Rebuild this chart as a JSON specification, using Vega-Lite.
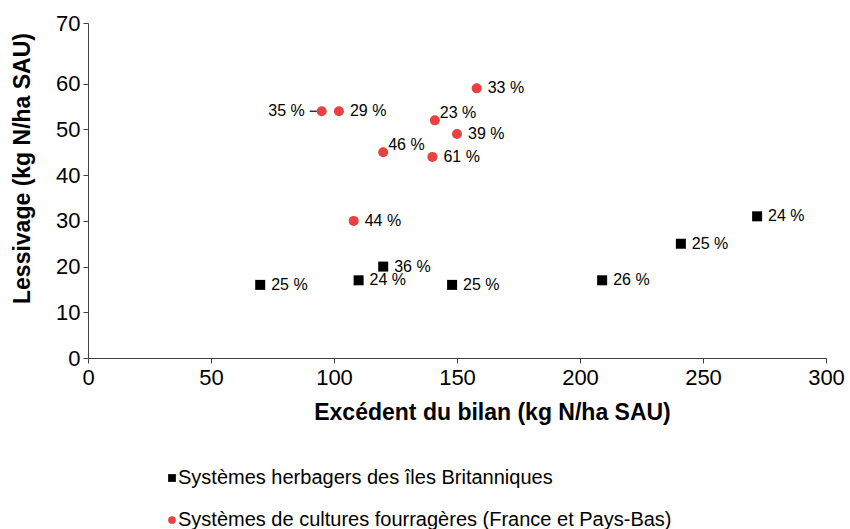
{
  "$schema": "https://vega.github.io/schema/vega-lite/v6.json",
  "width": 738,
  "height": 335,
  "autosize": {"type": "none"},
  "padding": {"left": 88, "top": 23, "right": 24, "bottom": 171},
  "background": "white",
  "config": {
    "view": {"stroke": null},
    "font": "Liberation Sans",
    "axis": {"grid": false, "domainColor": "#404040", "tickColor": "#404040", "tickSize": 5, "labelColor": "#000000", "titleColor": "#000000", "labelFont": "Liberation Sans", "titleFont": "Liberation Sans", "labelFlush": false}
  },
  "data": {
    "values": [
      {"x": 95, "y": 54, "label": "35 %", "serie": "Systèmes de cultures fourragères (France et Pays-Bas)"},
      {"x": 102, "y": 54, "label": "29 %", "serie": "Systèmes de cultures fourragères (France et Pays-Bas)"},
      {"x": 141, "y": 52, "label": "23 %", "serie": "Systèmes de cultures fourragères (France et Pays-Bas)"},
      {"x": 158, "y": 59, "label": "33 %", "serie": "Systèmes de cultures fourragères (France et Pays-Bas)"},
      {"x": 150, "y": 49, "label": "39 %", "serie": "Systèmes de cultures fourragères (France et Pays-Bas)"},
      {"x": 120, "y": 45, "label": "46 %", "serie": "Systèmes de cultures fourragères (France et Pays-Bas)"},
      {"x": 140, "y": 44, "label": "61 %", "serie": "Systèmes de cultures fourragères (France et Pays-Bas)"},
      {"x": 108, "y": 30, "label": "44 %", "serie": "Systèmes de cultures fourragères (France et Pays-Bas)"},
      {"x": 70, "y": 16, "label": "25 %", "serie": "Systèmes herbagers des îles Britanniques"},
      {"x": 110, "y": 17, "label": "24 %", "serie": "Systèmes herbagers des îles Britanniques"},
      {"x": 120, "y": 20, "label": "36 %", "serie": "Systèmes herbagers des îles Britanniques"},
      {"x": 148, "y": 16, "label": "25 %", "serie": "Systèmes herbagers des îles Britanniques"},
      {"x": 209, "y": 17, "label": "26 %", "serie": "Systèmes herbagers des îles Britanniques"},
      {"x": 241, "y": 25, "label": "25 %", "serie": "Systèmes herbagers des îles Britanniques"},
      {"x": 272, "y": 31, "label": "24 %", "serie": "Systèmes herbagers des îles Britanniques"}
    ]
  },
  "encoding": {
    "x": {
      "field": "x", "type": "quantitative",
      "scale": {"domain": [0, 300], "nice": false, "zero": true},
      "axis": {
        "title": "Excédent du bilan (kg N/ha SAU)",
        "values": [0, 50, 100, 150, 200, 250, 300],
        "labelFontSize": 22, "labelPadding": 4,
        "titleFontSize": 23, "titleFontWeight": "bold",
        "titleX": 404, "titleY": 54, "titleAlign": "center", "titleBaseline": "middle"
      }
    },
    "y": {
      "field": "y", "type": "quantitative",
      "scale": {"domain": [0, 73.3], "nice": false},
      "axis": {
        "title": "Lessivage (kg N/ha SAU)",
        "values": [0, 10, 20, 30, 40, 50, 60, 73.3],
        "labelExpr": "datum.value > 65 ? '70' : datum.label",
        "labelFontSize": 22, "labelPadding": 3,
        "titleFontSize": 23, "titleFontWeight": "bold",
        "titleAngle": -90, "titleX": -66, "titleY": 145, "titleAlign": "center", "titleBaseline": "middle"
      }
    }
  },
  "layer": [
    {
      "mark": {"type": "rule", "xOffset": -12, "x2Offset": -4, "color": "#000000", "strokeWidth": 1.2},
      "transform": [{"filter": "datum.label === '35 %'"}],
      "encoding": {"x2": {"field": "x"}}
    },
    {
      "mark": {"type": "point", "filled": true, "size": 100, "opacity": 1},
      "encoding": {
        "shape": {
          "field": "serie", "type": "nominal",
          "scale": {"domain": ["Systèmes herbagers des îles Britanniques", "Systèmes de cultures fourragères (France et Pays-Bas)"], "range": ["square", "circle"]},
          "legend": {"title": null, "orient": "none", "legendX": 74, "legendY": 445, "direction": "vertical", "labelFontSize": 20, "labelFont": "Liberation Sans", "labelColor": "#000000", "symbolSize": 60, "labelOffset": -4, "rowPadding": 22, "labelLimit": 700}
        },
        "color": {
          "field": "serie", "type": "nominal",
          "scale": {"domain": ["Systèmes herbagers des îles Britanniques", "Systèmes de cultures fourragères (France et Pays-Bas)"], "range": ["#000000", "#e84142"]},
          "legend": {"title": null, "orient": "none", "legendX": 74, "legendY": 445, "direction": "vertical", "labelFontSize": 20, "labelFont": "Liberation Sans", "labelColor": "#000000", "symbolSize": 60, "labelOffset": -4, "rowPadding": 22, "labelLimit": 700}
        }
      }
    },
    {
      "mark": {"type": "text", "align": "left", "baseline": "middle", "dx": 11, "fontSize": 16, "color": "#000000"},
      "transform": [{"filter": "datum.label !== '35 %' && datum.label !== '23 %' && datum.label !== '46 %'"}],
      "encoding": {"text": {"field": "label"}}
    },
    {
      "mark": {"type": "text", "align": "left", "baseline": "middle", "dx": 5, "dy": -7, "fontSize": 16, "color": "#000000"},
      "transform": [{"filter": "datum.label === '23 %' || datum.label === '46 %'"}],
      "encoding": {"text": {"field": "label"}}
    },
    {
      "mark": {"type": "text", "align": "right", "baseline": "middle", "dx": -17, "fontSize": 16, "color": "#000000"},
      "transform": [{"filter": "datum.label === '35 %'"}],
      "encoding": {"text": {"field": "label"}}
    }
  ]
}
